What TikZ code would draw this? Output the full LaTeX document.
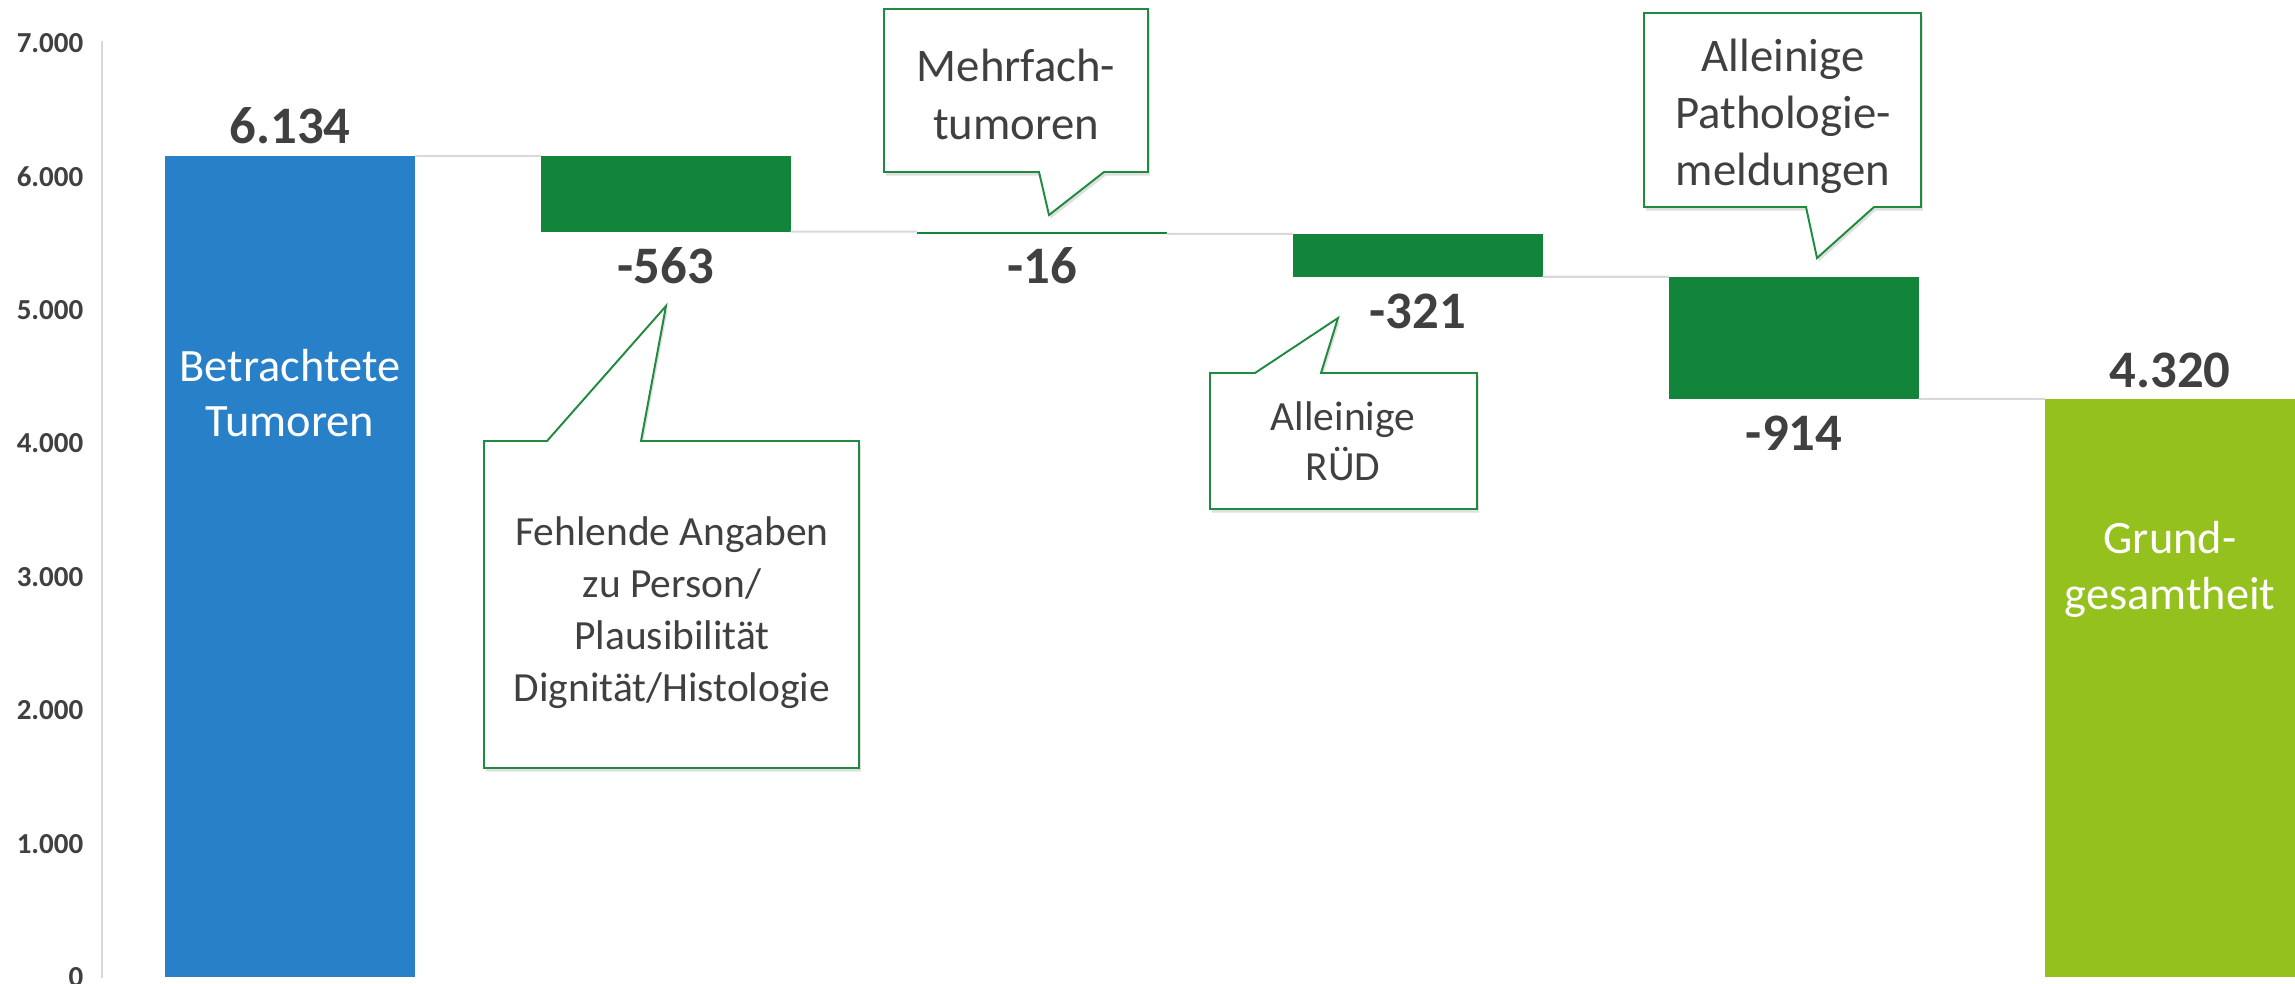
\documentclass[tikz,border=0pt]{standalone}
\usepackage{fontspec}
\setmainfont{Carlito}
\usetikzlibrary{shadows}
\definecolor{barblue}{HTML}{2780C8}
\definecolor{bargreen}{HTML}{13853A}
\definecolor{barlime}{HTML}{95C11F}
\definecolor{txtgray}{HTML}{404040}
\definecolor{linegray}{HTML}{D9D9D9}
\definecolor{calloutgreen}{HTML}{1E8B3E}
\begin{document}
\begin{tikzpicture}[x=0.1mm,y=-0.1mm,
  bar/.style={anchor=north west, inner sep=0pt, outer sep=0pt, minimum width=24.95mm},
  conn/.style={draw=linegray, line width=0.6pt},
  axlab/.style={anchor=east, text=txtgray, font=\fontsize{8.25}{10}\selectfont\bfseries, inner sep=0pt},
  vallab/.style={anchor=base, text=txtgray, font=\fontsize{15}{18}\selectfont\bfseries, inner sep=0pt},
  inlab/.style={align=center, text=white, font=\fontsize{13.2}{15.9}\selectfont, inner sep=0pt},
  callbox/.style={draw=calloutgreen, fill=white, line width=0.55pt, line join=miter,
    drop shadow={shadow xshift=0.5pt, shadow yshift=-1pt, opacity=0.25}},
  calltxt/.style={align=center, text=txtgray, inner sep=0pt},
]
\useasboundingbox (0,0) rectangle (2295,983);
\fill[white] (0,0) rectangle (2295,983);

% axis
\coordinate (axtop) at (102,41);
\coordinate (axbot) at (102,978);
\draw[conn] (axtop) -- (axbot);
\node[axlab] (t7) at (84,43) {7.000};
\node[axlab] (t6) at (84,177) {6.000};
\node[axlab] (t5) at (84,310) {5.000};
\node[axlab] (t4) at (84,443.5) {4.000};
\node[axlab] (t3) at (84,577) {3.000};
\node[axlab] (t2) at (84,710.5) {2.000};
\node[axlab] (t1) at (84,844) {1.000};
\node[axlab] (t0) at (84,977.5) {0};

% bars
\node[bar, fill=barblue,  minimum height=82.06mm] (b1) at (165,156.4) {};
\node[bar, fill=bargreen, minimum height=7.52mm]  (b2) at (541,156.4) {};
\node[bar, fill=bargreen, minimum height=0.22mm]  (b3) at (917,231.6) {};
\node[bar, fill=bargreen, minimum height=4.29mm]  (b4) at (1293,233.8) {};
\node[bar, fill=bargreen, minimum height=12.22mm] (b5) at (1669,276.7) {};
\node[bar, fill=barlime,  minimum height=57.81mm] (b6) at (2045,398.9) {};

% connectors between bars
\draw[conn] (b1.north east) -- (b2.north west);
\draw[conn] (b2.south east) -- (b3.north west);
\draw[conn] (b3.south east) -- (b4.north west);
\draw[conn] (b4.south east) -- (b5.north west);
\draw[conn] (b5.south east) -- (b6.north west);

% value labels
\node[vallab] (v1) at (290,143) {6.134};
\node[vallab] (v2) at (666,283) {-563};
\node[vallab] (v3) at (1042,283) {-16};
\node[vallab] (v4) at (1418,328) {-321};
\node[vallab] (v5) at (1794,450) {-914};
\node[vallab] (v6) at (2170,387) {4.320};

% labels inside bars
\node[inlab] (l1) at (290,393) {Betrachtete\\Tumoren};
\node[inlab] (l6) at (2170,569) {Grund-\\gesamtheit};

% callout 1
\coordinate (c1tip) at (666,306);
\draw[callbox] (484,441) -- (547,441) -- (c1tip) -- (641,441) -- (859,441) -- (859,768) -- (484,768) -- cycle;
\node[calltxt, font=\fontsize{11.8}{14.8}\selectfont] (c1) at (672,613)
  {Fehlende Angaben\\zu Person/\\Plausibilität\\Dignität/Histologie};

% callout 2
\coordinate (c2tip) at (1049,215);
\draw[callbox] (884,9) -- (1148,9) -- (1148,172) -- (1104,172) -- (c2tip) -- (1039,172) -- (884,172) -- cycle;
\node[calltxt, font=\fontsize{13.3}{16.5}\selectfont] (c2) at (1016,94) {Mehrfach-\\tumoren};

% callout 3
\coordinate (c3tip) at (1338,318);
\draw[callbox] (1210,373) -- (1255,373) -- (c3tip) -- (1321,373) -- (1477,373) -- (1477,509) -- (1210,509) -- cycle;
\node[calltxt, font=\fontsize{11.8}{14.2}\selectfont] (c3) at (1343,441) {Alleinige\\RÜD};

% callout 4
\coordinate (c4tip) at (1817,258);
\draw[callbox] (1644,13) -- (1921,13) -- (1921,207) -- (1874,207) -- (c4tip) -- (1806,207) -- (1644,207) -- cycle;
\node[calltxt, font=\fontsize{13.3}{16.2}\selectfont] (c4) at (1783,116) {Alleinige\\Pathologie-\\meldungen};
\end{tikzpicture}
\end{document}
